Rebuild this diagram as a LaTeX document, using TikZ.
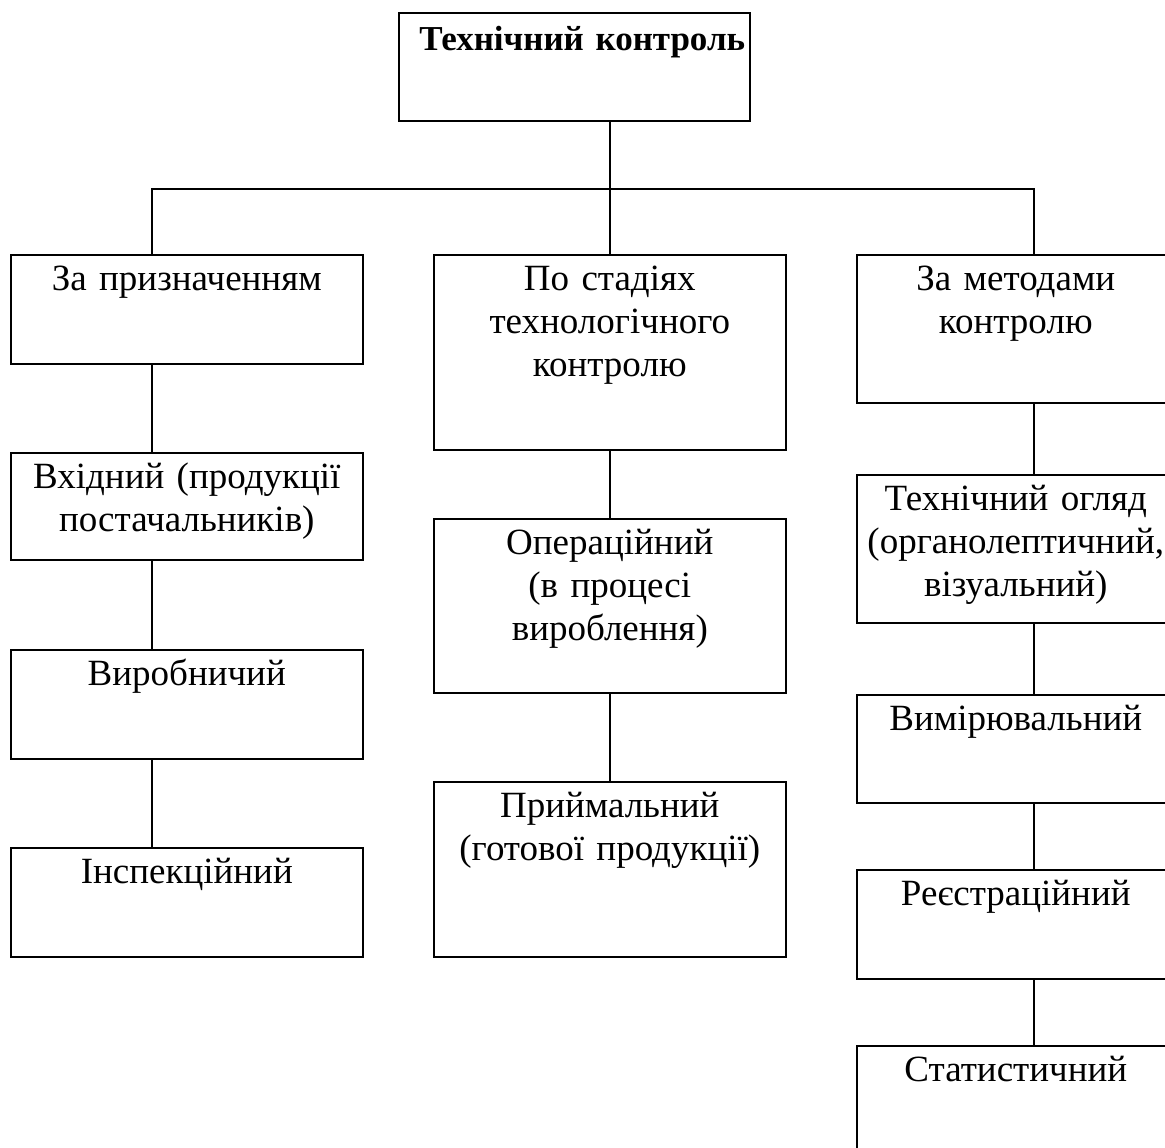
\documentclass[tikz,border=0pt]{standalone}
\usepackage{fontspec}
\setmainfont{Liberation Serif}
\usetikzlibrary{positioning}

\begin{document}
\begin{tikzpicture}[x=1pt, y=-1pt,
                          box/.style={rectangle, draw, line width=1.6pt, anchor=north west, inner xsep=6pt, inner ysep=0pt,
                                      minimum width=352pt, text width=340pt, align=center, text height=36pt,
                                      font=\fontsize{37}{43}\selectfont},
                          boxnarrow/.style={box, minimum width=318pt, text width=314pt, inner xsep=2pt},
                          link/.style={line width=1.6pt},
                      ]
                      \useasboundingbox (0,0) rectangle (1165,1148);
                      \clip (0,0) rectangle (1165,1148);

                      %Nodes
                      \node[box, minimum width=351pt, inner xsep=2pt, text width=347pt, text height=38pt, text depth=70pt,
                            font=\fontsize{35}{43}\selectfont\bfseries] (tk) at (398,12) {\hspace*{16pt}Технічний контроль};

                      \node[box, text depth=73pt]   (pryzn)  at (10,254)  {За призначенням};
                      \node[box, text depth=71pt]   (vkhid)  at (10,452)  {Вхідний (продукції постачальників)};
                      \node[box, text depth=73pt]   (vyrob)  at (10,649)  {Виробничий};
                      \node[box, text depth=73pt]   (insp)   at (10,847)  {Інспекційний};

                      \node[box, text depth=159pt]  (stadii) at (433,254) {По стадіях\\технологічного\\контролю};
                      \node[box, text depth=138pt]  (oper)   at (433,518) {Операційний\\(в процесі\\вироблення)};
                      \node[box, text depth=139pt]  (pryim)  at (433,781) {Приймальний\\(готової продукції)};

                      \node[boxnarrow, text depth=112pt] (metody)  at (856,254)  {За методами\\контролю};
                      \node[boxnarrow, text depth=112pt] (ohliad)  at (856,474)  {Технічний огляд\\(органолептичний,\\візуальний)};
                      \node[boxnarrow, text depth=72pt]  (vymir)   at (856,694)  {Вимірювальний};
                      \node[boxnarrow, text depth=73pt]  (reiestr) at (856,869)  {Реєстраційний};
                      \node[boxnarrow, text depth=114pt] (stat)    at (856,1045) {Статистичний};

                      \coordinate (bus_l) at (152,189);
                      \coordinate (bus_r) at (1034,189);

                      %Lines
                      \draw[link] (tk.south -| stadii.north) -- (stadii.north);
                      \draw[link] (bus_l |- pryzn.north) -- (bus_l) -- (bus_r) -- (bus_r |- metody.north);

                      \draw[link] (pryzn.south -| bus_l) -- (vkhid.north -| bus_l);
                      \draw[link] (vkhid.south -| bus_l) -- (vyrob.north -| bus_l);
                      \draw[link] (vyrob.south -| bus_l) -- (insp.north -| bus_l);

                      \draw[link] (stadii.south) -- (oper.north);
                      \draw[link] (oper.south) -- (pryim.north);

                      \draw[link] (metody.south -| bus_r) -- (ohliad.north -| bus_r);
                      \draw[link] (ohliad.south -| bus_r) -- (vymir.north -| bus_r);
                      \draw[link] (vymir.south -| bus_r) -- (reiestr.north -| bus_r);
                      \draw[link] (reiestr.south -| bus_r) -- (stat.north -| bus_r);
                  \end{tikzpicture}
\end{document}
